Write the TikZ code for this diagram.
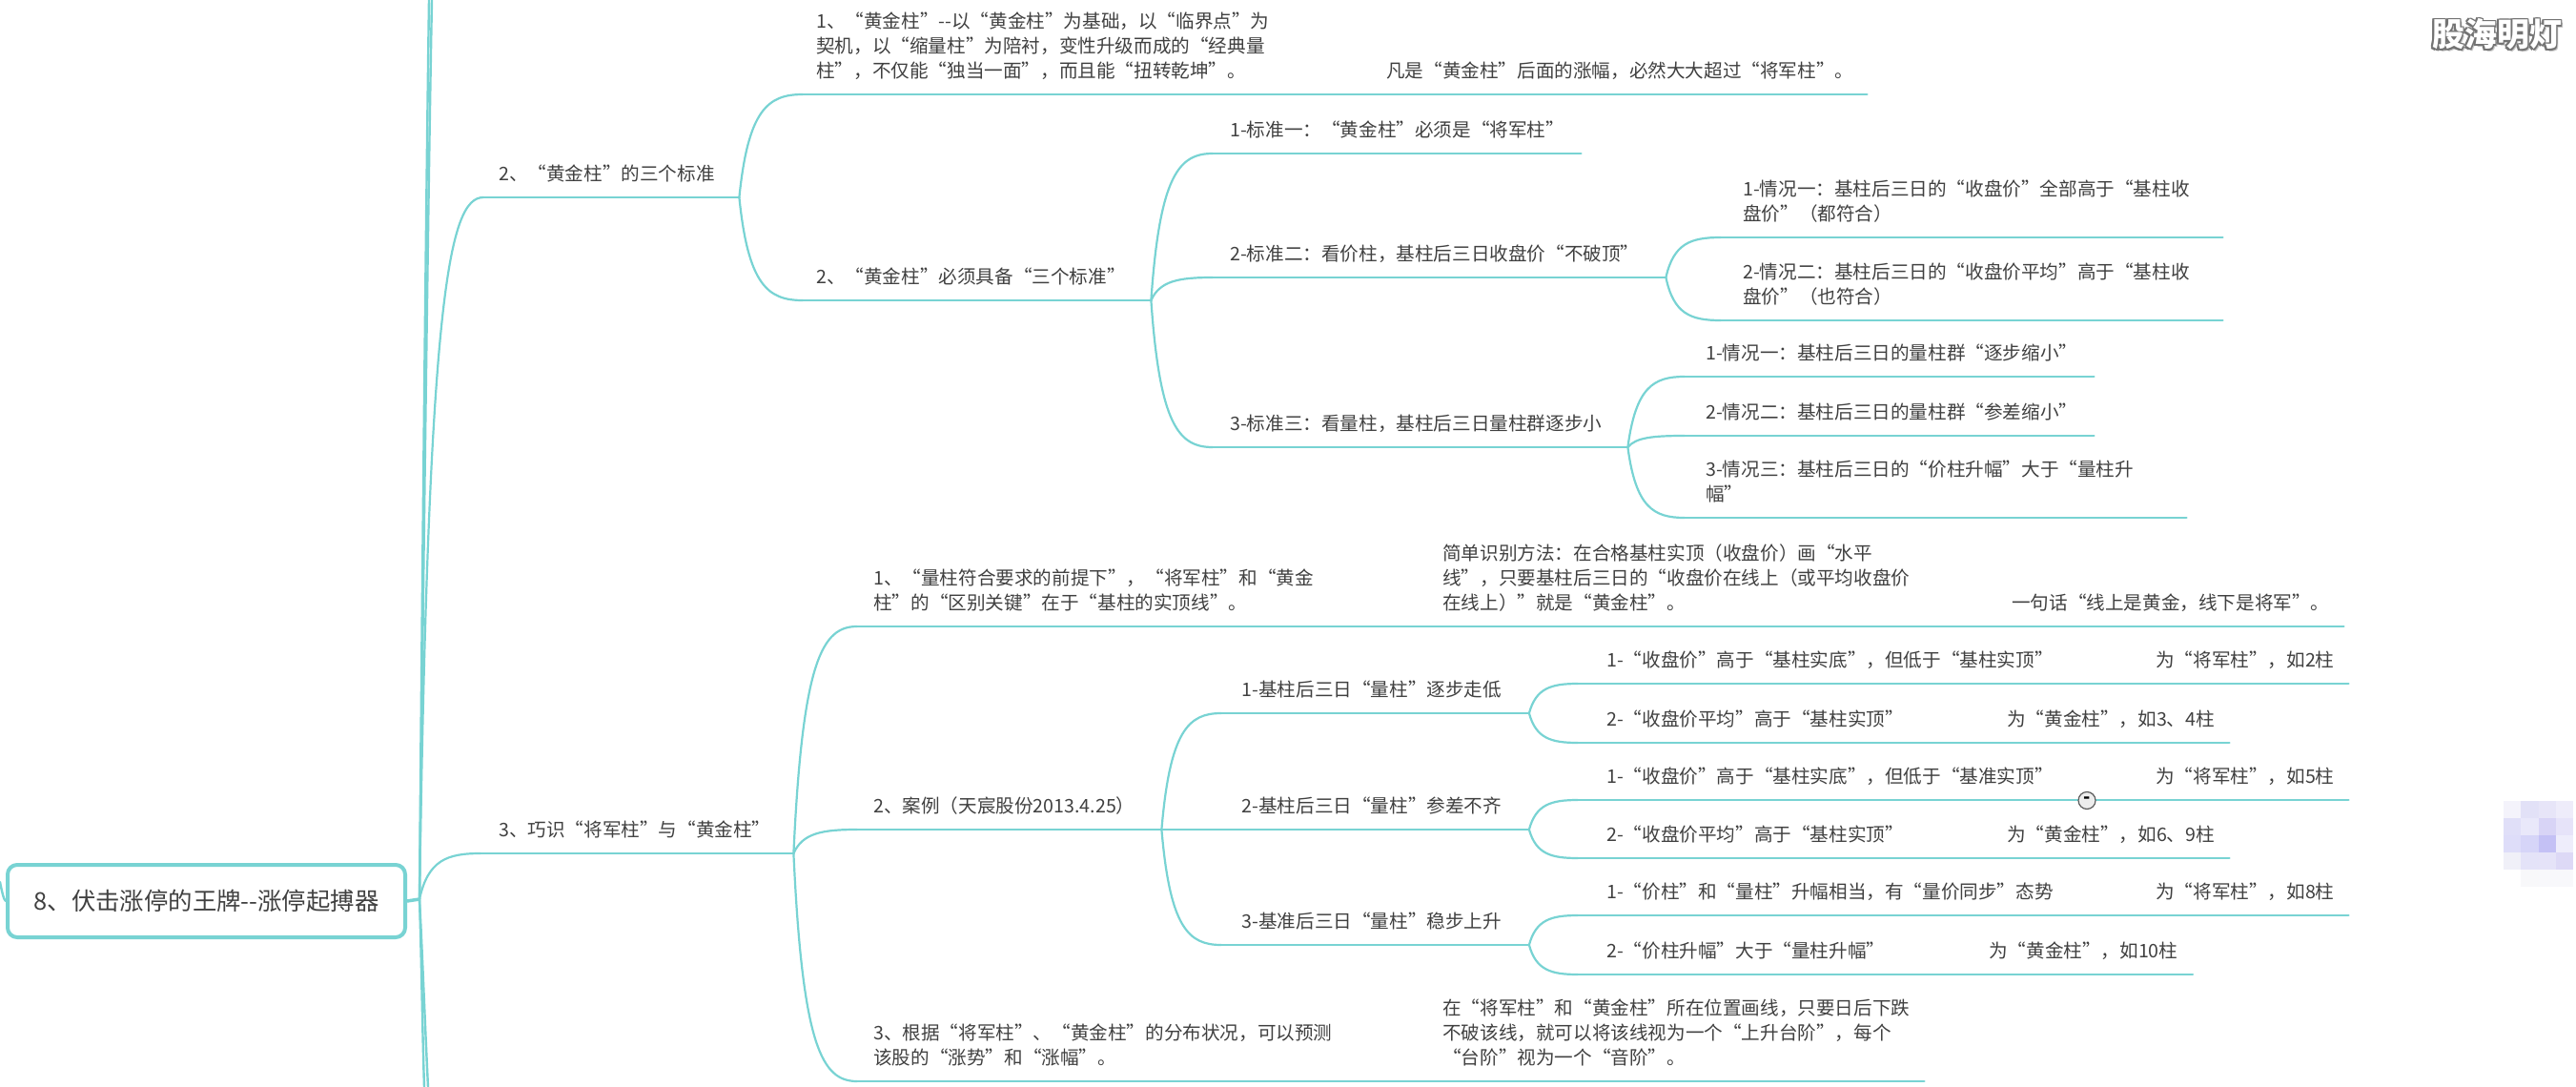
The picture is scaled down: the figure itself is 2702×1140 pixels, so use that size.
\documentclass[tikz,border=0pt]{standalone}
\usepackage{fontspec}
\setmainfont{Noto Sans CJK SC}
\usetikzlibrary{calc}
\definecolor{mapline}{HTML}{78D3D3}
\definecolor{maptext}{HTML}{404040}
\begin{document}
\begin{tikzpicture}[x=1pt,y=-1pt,line join=round,line cap=round]
\tikzset{
	topic/.style 2 args={anchor=south west,inner xsep=0pt,inner ysep=9pt,text width=#1pt,align=left,text=maptext,
		font=\fontsize{19.6}{26.4}\selectfont,execute at begin node={\leftskip=#2pt},execute at end node={\strut}},
	rootbox/.style={draw=mapline,line width=4pt,rounded corners=10pt,minimum width=417pt,minimum height=76pt,inner sep=0pt,
		text=maptext,font=\fontsize{25.4}{30}\selectfont},
	rule/.style={draw=mapline,line width=2.6pt},
	branch/.style={draw=mapline,line width=2.2pt,to path={let \p1=(\tikztostart),\p2=(\tikztotarget) in
		.. controls ({\x1+0.14*(\x2-\x1)},{\y1+0.85*(\y2-\y1)}) and ({\x1+0.45*(\x2-\x1)},\y2) .. (\tikztotarget)}},
	trunk/.style={draw=mapline,line width=2.4pt},
	foldmark/.style={circle,draw=black!65,fill=black!7,line width=1.2pt,minimum size=18pt,inner sep=0pt,font=\fontsize{19}{19}\selectfont\bfseries},
	stamp/.style={inner sep=0pt,font=\fontsize{34}{34}\selectfont\bfseries}
}
\useasboundingbox (0,0) rectangle (2702,1140);
\node[rootbox] (root) at (216.5,945) {8、伏击涨停的王牌-{}-涨停起搏器};
\coordinate (hub) at (440,943);
\coordinate (offleft) at (0,925);
\coordinate (upa) at (450,0);
\coordinate (upb) at (453,0);
\coordinate (dna) at (445,1140);
\coordinate (dnb) at (449,1140);
% first branch
\node[topic={268}{16}] (sanbiao) at (507,207) {2、“黄金柱”的三个标准};
\node[topic={520}{14}] (jingdian) at (842,99) {1、“黄金柱”-{}-以“黄金柱”为基础，以“临界点”为\\契机，以“缩量柱”为陪衬，变性升级而成的“经典量\\柱”，不仅能“独当一面”，而且能“扭转乾坤”。};
\node[topic={586}{82}] (fanshi) at (1372,99) {凡是“黄金柱”后面的涨幅，必然大大超过“将军柱”。};
\node[topic={365}{14}] (biaozhun) at (842,315) {2、“黄金柱”必须具备“三个标准”};
\node[topic={386}{18}] (bza) at (1272,161) {1-标准一：“黄金柱”必须是“将军柱”};
\node[topic={475}{18}] (bzb) at (1272,291) {2-标准二：看价柱，基柱后三日收盘价“不破顶”};
\node[topic={435}{18}] (bzc) at (1272,469) {3-标准三：看量柱，基柱后三日量柱群逐步小};
\node[topic={526}{23}] (bzba) at (1805,249) {1-情况一：基柱后三日的“收盘价”全部高于“基柱收\\盘价”（都符合）};
\node[topic={526}{23}] (bzbb) at (1805,336) {2-情况二：基柱后三日的“收盘价平均”高于“基柱收\\盘价”（也符合）};
\node[topic={429}{22}] (bzca) at (1767,395) {1-情况一：基柱后三日的量柱群“逐步缩小”};
\node[topic={429}{22}] (bzcb) at (1767,457) {2-情况二：基柱后三日的量柱群“参差缩小”};
\node[topic={526}{22}] (bzcc) at (1767,543) {3-情况三：基柱后三日的“价柱升幅”大于“量柱升\\幅”};
% second branch
\node[topic={328}{19}] (qiaoshi) at (504,895) {3、巧识“将军柱”与“黄金柱”};
\node[topic={520}{17}] (guanjian) at (899,657) {1、“量柱符合要求的前提下”，“将军柱”和“黄金\\柱”的“区别关键”在于“基柱的实顶线”。};
\node[topic={582}{83}] (fangfa) at (1430,657) {简单识别方法：在合格基柱实顶（收盘价）画“水平\\线”，只要基柱后三日的“收盘价在线上（或平均收盘价\\在线上）”就是“黄金柱”。};
\node[topic={436}{88}] (yiju) at (2022,657) {一句话“线上是黄金，线下是将军”。};
\node[topic={319}{17}] (anli) at (899,870) {2、案例（天宸股份2013.4.25）};
\node[topic={322.5}{21.5}] (ala) at (1281,748) {1-基柱后三日“量柱”逐步走低};
\node[topic={322.5}{21.5}] (alb) at (1281,870) {2-基柱后三日“量柱”参差不齐};
\node[topic={322.5}{21.5}] (alc) at (1281,991) {3-基准后三日“量柱”稳步上升};
\node[topic={514}{30}] (alaa) at (1655,717) {1-“收盘价”高于“基柱实底”，但低于“基柱实顶”};
\node[topic={284}{82}] (alaax) at (2179,717) {为“将军柱”，如2柱};
\node[topic={370}{30}] (alab) at (1655,779) {2-“收盘价平均”高于“基柱实顶”};
\node[topic={303}{70}] (alabx) at (2035,779) {为“黄金柱”，如3、4柱};
\node[topic={514}{30}] (alba) at (1655,839) {1-“收盘价”高于“基柱实底”，但低于“基准实顶”};
\node[topic={284}{82}] (albax) at (2179,839) {为“将军柱”，如5柱};
\node[topic={370}{30}] (albb) at (1655,900) {2-“收盘价平均”高于“基柱实顶”};
\node[topic={303}{70}] (albbx) at (2035,900) {为“黄金柱”，如6、9柱};
\node[topic={514}{30}] (alca) at (1655,960) {1-“价柱”和“量柱”升幅相当，有“量价同步”态势};
\node[topic={284}{82}] (alcax) at (2179,960) {为“将军柱”，如8柱};
\node[topic={338}{30}] (alcb) at (1655,1022) {2-“价柱升幅”大于“量柱升幅”};
\node[topic={296.5}{83}] (alcbx) at (2003,1022) {为“黄金柱”，如10柱};
\node[topic={520}{17}] (yuce) at (899,1134) {3、根据“将军柱”、“黄金柱”的分布状况，可以预测\\该股的“涨势”和“涨幅”。};
\node[topic={588}{83}] (taijie) at (1430,1134) {在“将军柱”和“黄金柱”所在位置画线，只要日后下跌\\不破该线，就可以将该线视为一个“上升台阶”，每个\\“台阶”视为一个“音阶”。};
% underlines
\foreach \n in {sanbiao,jingdian,fanshi,biaozhun,bza,bzb,bzc,bzba,bzbb,bzca,bzcb,bzcc,qiaoshi,guanjian,fangfa,yiju,anli,ala,alb,alc,alaa,alaax,alab,alabx,alba,albax,albb,albbx,alca,alcax,alcb,alcbx,yuce,taijie}
	\draw[rule] (\n.south west)--(\n.south east);
% connectors
\foreach \up/\dn in {sanbiao/jingdian,sanbiao/biaozhun,biaozhun/bza,biaozhun/bzb,biaozhun/bzc,bzb/bzba,bzb/bzbb,bzc/bzca,bzc/bzcb,bzc/bzcc,jingdian/fanshi,qiaoshi/guanjian,qiaoshi/anli,qiaoshi/yuce,guanjian/fangfa,fangfa/yiju,anli/ala,anli/alb,anli/alc,ala/alaa,ala/alab,alb/alba,alb/albb,alc/alca,alc/alcb,alaa/alaax,alab/alabx,alba/albax,albb/albbx,alca/alcax,alcb/alcbx,yuce/taijie}
	\draw[branch] (\up.south east) to (\dn.south west);
\draw[rule,line width=3.5pt] (root.east)--(hub);
\draw[branch] (hub) to (sanbiao.south west);
\draw[branch] (hub) to (qiaoshi.south west);
\draw[trunk] (hub) .. controls (442,700) and (447,200) .. (upa);
\draw[trunk] (hub) .. controls (443,700) and (449,200) .. (upb);
\draw[trunk] (hub) .. controls (442,1000) and (443,1080) .. (dna);
\draw[trunk] (hub) .. controls (443,1000) and (446,1080) .. (dnb);
\draw[trunk] (root.west) .. controls (4,944) and (2,935) .. (offleft);
\node[foldmark] (fold) at (2189,839.5) {-};
% stamp
\node[stamp,text=black!22] (stampshade) at (2621.5,39) {股海明灯};
\foreach \dx/\dy in {-1.2/-1.2,1.2/-1.2,-1.2/1.2,1.2/1.2,0/-1.6,0/1.6,-1.6/0,1.6/0}
	\node[stamp,text=black!55] at ({2619+\dx},{36+\dy}) {股海明灯};
\node[stamp,text=white] (stampfront) at (2619,36) {股海明灯};
% mosaic
\foreach \col/\row/\shade in {0/0/F4F3FB,1/0/E2E1F7,2/0/E7E5F8,3/0/EEECFA,0/1/E0DFF8,1/1/E9E8FA,2/1/D8D4F6,3/1/E6E3F9,0/2/DEDDF9,1/2/D6D5F8,2/2/C4C1F5,3/2/EEEDFB,0/3/F0F0F8,1/3/E4E3F8,2/3/E5E3F8,3/3/DDD9F6,1/4/F8F8FA,2/4/F8F8FB,3/4/F8F8FB}{
	\definecolor{tile}{HTML}{\shade}
	\fill[tile] ({2626+18.3*\col},{840+18*\row}) rectangle ++(18.3,18);
}
\end{tikzpicture}
\end{document}
